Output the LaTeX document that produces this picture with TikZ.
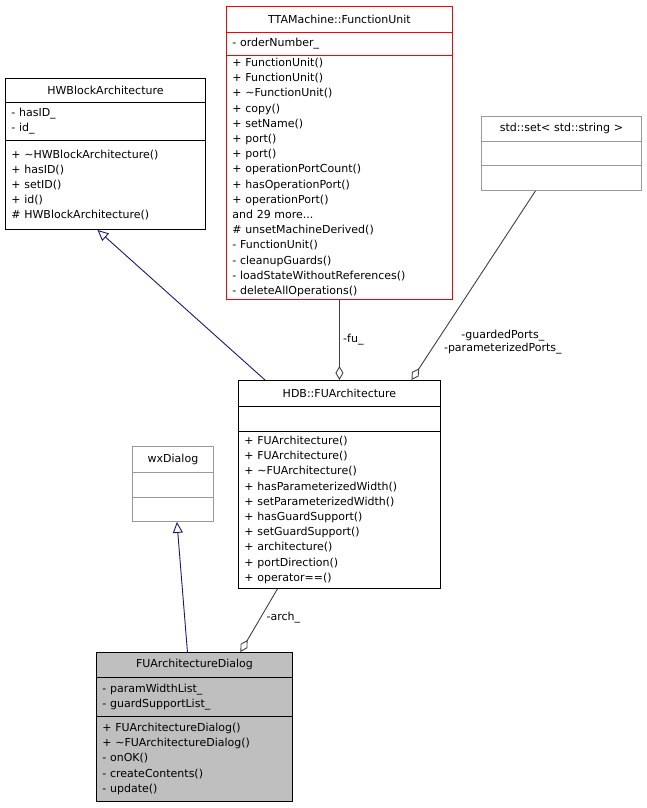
\documentclass[tikz,border=0pt]{standalone}
\usepackage{fontspec}
\setmainfont{DejaVu Sans}
\usetikzlibrary{arrows.meta}

\definecolor{inhcol}{HTML}{191970}
\definecolor{dlgfill}{HTML}{BFBFBF}

\tikzset{
  part/.style={draw=black, line width=0.9pt, anchor=north west, inner xsep=6pt, inner ysep=0pt,
    align=left, font=\fontsize{11}{15.2}\selectfont},
  title/.style={part, align=center},
  inherit/.style={draw=inhcol, line width=0.9pt, -{Triangle[open,length=11pt,width=10pt]}},
  member/.style={draw=black!75, line width=0.9pt, -{Diamond[open,length=14pt,width=8pt]}},
  lbl/.style={font=\fontsize{11}{13.5}\selectfont, align=center}
}

\begin{document}
\begin{tikzpicture}[x=1pt, y=-1pt]
    \useasboundingbox (0,0) rectangle (647,808);

    %HWBlockArchitecture
    \node[title, text width=188pt, minimum height=24pt] (hw) at (5,78) {HWBlockArchitecture};
    \node[part, text width=188pt, minimum height=38pt] (hwa) at (5,102) {- hasID\_\\- id\_};
    \node[part, text width=188pt, minimum height=89pt] (hwm) at (5,140)
      {+ \textasciitilde HWBlockArchitecture()\\+ hasID()\\+ setID()\\+ id()\\\# HWBlockArchitecture()};

    %TTAMachine::FunctionUnit
    \node[title, draw=red, text width=214pt, minimum height=26pt] (fu) at (226,6) {TTAMachine::FunctionUnit};
    \node[part, draw=red, text width=214pt, minimum height=23pt] (fua) at (226,32) {- orderNumber\_};
    \node[part, draw=red, text width=214pt, minimum height=244pt] (fum) at (226,55)
      {+ FunctionUnit()\\+ FunctionUnit()\\+ \textasciitilde FunctionUnit()\\+ copy()\\+ setName()\\+ port()\\+ port()\\+ operationPortCount()\\+ hasOperationPort()\\+ operationPort()\\and 29 more...\\\# unsetMachineDerived()\\- FunctionUnit()\\- cleanupGuards()\\- loadStateWithoutReferences()\\- deleteAllOperations()};

    %std::set
    \node[title, draw=black!40, text width=148pt, minimum height=25pt] (set) at (481,116) {std::set< std::string >};
    \node[part, draw=black!40, text width=148pt, minimum height=24pt] (seta) at (481,141) {};
    \node[part, draw=black!40, text width=148pt, minimum height=25pt] (setm) at (481,165) {};

    %HDB::FUArchitecture
    \node[title, text width=190pt, minimum height=26pt] (arch) at (238,380) {HDB::FUArchitecture};
    \node[part, text width=190pt, minimum height=25pt] (archa) at (238,406) {};
    \node[part, text width=190pt, minimum height=157pt] (archm) at (238,431)
      {+ FUArchitecture()\\+ FUArchitecture()\\+ \textasciitilde FUArchitecture()\\+ hasParameterizedWidth()\\+ setParameterizedWidth()\\+ hasGuardSupport()\\+ setGuardSupport()\\+ architecture()\\+ portDirection()\\+ operator==()};

    %wxDialog
    \node[title, draw=black!40, text width=69pt, minimum height=26pt] (wx) at (132,446) {wxDialog};
    \node[part, draw=black!40, text width=69pt, minimum height=25pt] (wxa) at (132,472) {};
    \node[part, draw=black!40, text width=69pt, minimum height=24pt] (wxm) at (132,497) {};

    %FUArchitectureDialog
    \node[title, fill=dlgfill, text width=184pt, minimum height=25pt] (dlg) at (96,652) {FUArchitectureDialog};
    \node[part, fill=dlgfill, text width=184pt, minimum height=39pt] (dlga) at (96,677) {- paramWidthList\_\\- guardSupportList\_};
    \node[part, fill=dlgfill, text width=184pt, minimum height=85pt] (dlgm) at (96,716)
      {+ FUArchitectureDialog()\\+ \textasciitilde FUArchitectureDialog()\\- onOK()\\- createContents()\\- update()};

    %define the links
    \draw[inherit] (arch.north west) ++(27,0) coordinate (archin) -- ([xshift=-8pt]hwm.south);
    \draw[member] (fum.south) -- (arch.north -| fum.south) node[lbl, pos=0.5, right] {-fu\_};
    \draw[member] (setm.south) ++(-26,0) coordinate (setout) -- ([xshift=72pt]arch.north)
      node[lbl, pos=0.8, right=4pt] {-guardedPorts\_\\-parameterizedPorts\_};
    \draw[inherit] ([xshift=-7pt]dlg.north) -- ([xshift=4pt]wxm.south);
    \draw[member] ([xshift=-62pt]archm.south) -- ([xshift=46pt]dlg.north)
      node[lbl, pos=0.45, right=2pt] {-arch\_};
\end{tikzpicture}
\end{document}
